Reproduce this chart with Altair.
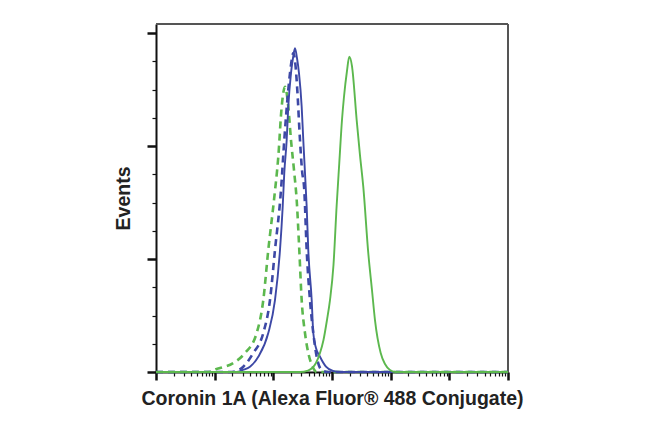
import altair as alt
import pandas as pd

# ---- data (x: fluorescence intensity, log scale; y: events) ----
green_dashed_x = [1, 5.62, 6.84, 8.90, 10.13, 12.33, 20.78, 32.88, 52.04, 67.43, 82.04, 102.6,
                  121.5, 138.8, 158.0, 179.8, 200.0, 227.6, 250.1, 277.0, 304.2, 346.4, 394.3,
                  468.7, 548.3, 1000000]
green_dashed_y = [0, 0, 0, 0.3, 2.2, 3.5, 8.0, 16.8, 34.5, 63.7, 108, 152.2,
                  190.5, 234.8, 252.5, 234.8, 205.3, 176.1, 152.2, 108, 63.7, 34.5, 16.8,
                  4.7, 0, 0]

blue_dashed_x = [1, 19.74, 23.7, 30.75, 45.55, 67.43, 87.7, 106.7, 135.1, 153.7, 179.8, 200.0,
                 218.9, 238.5, 256.1, 284.6, 307.8, 337.0, 370.2, 421.4, 479.8, 548.3, 667.2,
                 854.3, 1000000]
blue_dashed_y = [0, 0, 0.9, 4.7, 16.8, 34.5, 63.7, 108, 161, 205.3, 249.6, 271.7,
                 282.3, 271.7, 249.6, 205.3, 178.8, 161, 108, 63.7, 34.5, 13.5, 1.8,
                 0, 0]

blue_solid_x = [1, 18.25, 23.7, 30.4, 40.0, 55.4, 82.0, 106.7, 129.9, 144.4, 153.7, 168.9,
                179.8, 200.0, 216.3, 233.9, 253.0, 273.7, 304.2, 324.0, 346.4, 370.2, 394.3,
                450.6, 479.8, 533.3, 624.1, 789.9, 1039, 1368, 1000000]
blue_solid_y = [0, 0, 0, 1.8, 4.7, 13.5, 34.5, 63.7, 108, 146.3, 176.1, 205.3,
                234.8, 264.6, 277.9, 286.5, 277.9, 264.6, 234.8, 205.3, 176.1, 146.3, 108,
                63.7, 34.5, 21.2, 13.5, 4.7, 0.9, 0, 0]

green_solid_x = [1, 284.6, 389.7, 533, 624, 716, 821, 924, 1060, 1202, 1331, 1480, 1601,
                 1800, 1970, 2191, 2634, 2999, 3413, 4153, 4803, 5403, 6759, 8001, 9734,
                 12320, 1000000]
green_solid_y = [0, 0, 1.3, 8.0, 16.8, 28.3, 46.0, 63.7, 94.7, 147.8, 185, 223, 243.6,
                 266.4, 279, 270.8, 223, 192, 164, 105.3, 72.6, 46, 16.8, 7.1, 1.8,
                 0, 0]

y_ticks = [0, 25, 50, 75, 100, 125, 150, 175, 200, 225, 250, 275, 300]
decades = [1, 10, 100, 1000, 10000, 100000]
multipliers = [1, 2, 3, 4, 5, 6, 7, 8, 9]
x_ticks = [m * d for d in decades for m in multipliers] + [1000000]

GREEN = "#5cb84e"
BLUE = "#3d48a6"
FRAME = "#555555"
FONT = "Liberation Sans"
W, H = 352, 348

def frame(x, y):
    return pd.DataFrame({"x": x, "y": y})

major_x = "indexof([1,10,100,1000,10000,100000,1000000], datum.value) >= 0"
major_y = "datum.value % 100 === 0"

x_enc = alt.X(
    "x:Q",
    scale=alt.Scale(type="log", domain=[1, 1000000], nice=False),
    axis=alt.Axis(
        title="Coronin 1A (Alexa Fluor® 488 Conjugate)",
        values=x_ticks,
        labels=False,
        grid=False,
        domainColor="#111111",
        domainWidth=2,
        tickColor="#111111",
        tickSize={"condition": {"test": major_x, "value": 8}, "value": 4},
        tickWidth={"condition": {"test": major_x, "value": 2.5}, "value": 1.2},
        titleFont=FONT,
        titleFontSize=19.5,
        titleFontWeight="bold",
        titleColor="#222222",
        titlePadding=8,
    ),
)
y_enc = alt.Y(
    "y:Q",
    scale=alt.Scale(domain=[0, 308], nice=False),
    axis=alt.Axis(
        title="Events",
        values=y_ticks,
        labels=False,
        grid=False,
        domainColor="#111111",
        domainWidth=2,
        tickColor="#111111",
        tickSize={"condition": {"test": major_y, "value": 9}, "value": 4},
        tickWidth={"condition": {"test": major_y, "value": 2.5}, "value": 1.2},
        titleFont=FONT,
        titleFontSize=19.5,
        titleFontWeight="bold",
        titleColor="#222222",
        titlePadding=12,
    ),
)

def curve(x, y, color, dashed):
    kw = dict(color=color, strokeWidth=2.6 if dashed else 1.9, interpolate="monotone")
    if dashed:
        kw["strokeDash"] = [7, 5]
    return alt.Chart(frame(x, y)).mark_line(**kw).encode(x=x_enc, y=y_enc)

# top and right borders of the plot frame
top_border = alt.Chart().mark_rule(color=FRAME, strokeWidth=2).encode(
    x=alt.value(0), x2=alt.value(W), y=alt.value(0))
right_border = alt.Chart().mark_rule(color=FRAME, strokeWidth=2).encode(
    x=alt.value(W), y=alt.value(0), y2=alt.value(H))

chart = alt.layer(
    top_border,
    right_border,
    curve(green_dashed_x, green_dashed_y, GREEN, True),
    curve(blue_dashed_x, blue_dashed_y, BLUE, True),
    curve(blue_solid_x, blue_solid_y, BLUE, False),
    curve(green_solid_x, green_solid_y, GREEN, False),
).properties(
    width=W,
    height=H,
    autosize=alt.AutoSizeParams(type="none"),
    padding={"left": 148, "top": 16, "right": 134, "bottom": 58},
).configure_view(
    stroke=None,
).configure(background="white")

chart.save("out.html", embed_options={"renderer": "svg", "actions": False})
